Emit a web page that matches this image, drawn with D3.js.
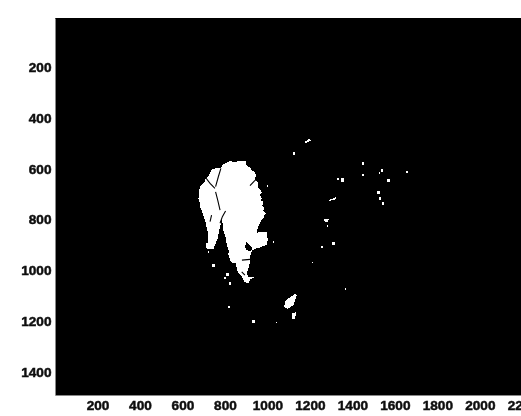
<!DOCTYPE html>
<html><head><meta charset="utf-8">
<script src="https://cdn.jsdelivr.net/npm/d3@7/dist/d3.min.js"></script>
<style>html,body{margin:0;padding:0;background:#fff;overflow:hidden}svg{display:block}</style>
</head><body><svg id="c" width="521" height="416"></svg>
<script>
const xTicks=[200,400,600,800,1000,1200,1400,1600,1800,2000,2200];
const yTicks=[200,400,600,800,1000,1200,1400];
const imageX=[0,2400];
const imageY=[7,1491];
const mainBlob=[[800,579],[812,575],[824,570],[840,574],[855,575],[863,569],[880,572],[902,569],[900,582],[907,592],[918,596],[929,609],[937,612],[946,625],[941,641],[950,648],[957,658],[954,675],[965,682],[973,693],[965,703],[973,717],[968,725],[981,730],[976,745],[984,756],[980,766],[993,776],[984,785],[981,796],[972,804],[965,815],[958,825],[957,835],[950,842],[952,852],[975,848],[1001,852],[996,865],[1004,881],[998,890],[996,901],[980,905],[965,910],[945,914],[926,924],[922,936],[918,949],[918,962],[916,975],[912,990],[902,1012],[910,1028],[938,1028],[918,1036],[910,1052],[891,1045],[879,1025],[860,1006],[850,973],[835,973],[825,960],[816,940],[818,925],[808,894],[803,870],[792,842],[790,820],[784,802],[777,829],[766,874],[745,918],[714,914],[709,897],[722,888],[719,848],[706,802],[700,790],[690,763],[684,752],[683,740],[675,717],[680,700],[676,690],[683,671],[692,664],[706,651],[708,642],[714,636],[725,625],[737,605],[753,599],[781,596],[788,586]];
const lowerBlob=[[1130,1094],[1138,1098],[1122,1137],[1094,1153],[1078,1143],[1087,1117]];
const holes=[[[902,888],[929,914],[918,927],[902,920],[894,907]]];
const seams=[[[781,599],[769,632],[756,671]],[[706,632],[730,658],[753,678]],[[756,691],[766,724],[777,763]],[[737,783],[730,809]],[[803,767],[788,789],[777,815]],[[880,960],[918,957]],[[918,667],[938,649],[949,641]],[[879,1006],[894,1019]]];
const shards=[[[1175,495],[1195,484],[1206,488],[1195,495],[1180,500]],[[1295,722],[1322,712],[1326,716],[1310,726]],[[1267,800],[1290,798],[1282,810],[1270,812]],[[1115,1168],[1135,1166],[1130,1190],[1117,1190]]];
const speckX=[1125,745,813,800,824,819,934,1000,1028,1044,722,1451,1451,1538,1527,1657,1570,1352,1332,1523,1530,1545,1294,1283,1310,1255,1211,1367];
const speckY=[540,982,1015,1029,1052,1146,1200,668,888,1206,927,579,626,608,619,613,646,645,642,695,716,739,726,826,893,908,970,1074];
const speckR=[6,6,6,4,5,4,6,3,3,2,4,6,4,5,4,3,6,7,4,6,6,6,3,3,6,5,3,3];

const x=d3.scaleLinear().domain(imageX).range([55,564.8]);
const y=d3.scaleLinear().domain(imageY).range([18,395]);
const svg=d3.select("#c");
const defs=svg.append("defs");
defs.append("filter").attr("id","soft").append("feGaussianBlur").attr("stdDeviation",0.45);
defs.append("filter").attr("id","softText").append("feGaussianBlur").attr("stdDeviation",0.3);
svg.append("rect").attr("x",x(imageX[0])).attr("y",y(imageY[0])).attr("width",x(imageX[1])-x(imageX[0])).attr("height",y(imageY[1])-y(imageY[0])).attr("fill","#000");
const marks=svg.append("g").attr("filter","url(#soft)");
const path=d3.line().x(d=>x(d[0])).y(d=>y(d[1])).curve(d3.curveLinearClosed);
const open=d3.line().x(d=>x(d[0])).y(d=>y(d[1]));
marks.append("g").attr("shape-rendering","crispEdges").selectAll("path").data([mainBlob,lowerBlob,...shards]).join("path").attr("d",path).attr("fill","#fff");
marks.append("g").attr("shape-rendering","crispEdges").selectAll("path").data(holes).join("path").attr("d",path).attr("fill","#000");
marks.append("g").selectAll("path").data(seams).join("path").attr("d",open).attr("fill","none").attr("stroke","#000").attr("stroke-width",1.1);
marks.append("g").attr("shape-rendering","crispEdges").selectAll("rect").data(speckX).join("rect")
  .attr("x",(d,i)=>x(d-speckR[i])).attr("y",(d,i)=>y(speckY[i]-speckR[i]))
  .attr("width",(d,i)=>x(2*speckR[i])-x(0)).attr("height",(d,i)=>y(2*speckR[i])-y(0))
  .attr("fill","#fff");
const ax=d3.axisBottom(x).tickValues(xTicks).tickFormat(d3.format("d")).tickSize(0).tickPadding(5);
const ay=d3.axisLeft(y).tickValues(yTicks).tickFormat(d3.format("d")).tickSize(0).tickPadding(3.5);
const gx=svg.append("g").attr("transform",`translate(0,${y(imageY[1])})`).call(ax);
const gy=svg.append("g").attr("transform",`translate(${x(imageX[0])},0)`).call(ay);
[gx,gy].forEach(g=>{
  g.select(".domain").attr("stroke","#888").attr("stroke-width",1);
  g.selectAll("text").attr("fill","#111").attr("font-family","'Liberation Sans',Arial,sans-serif").attr("font-weight","700").attr("font-size","13.6px").attr("stroke","#111").attr("stroke-width",0.5).attr("filter","url(#softText)");
});
</script></body></html>
